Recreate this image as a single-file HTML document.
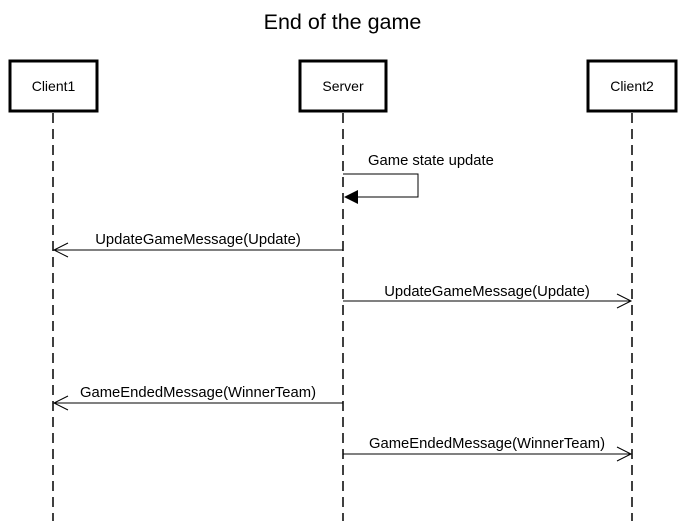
<!DOCTYPE html>
<html><head><style>body{margin:0;background:#fff}svg{display:block}</style></head><body>
<svg width="685" height="521" viewBox="0 0 685 521" xmlns="http://www.w3.org/2000/svg" font-family="Liberation Sans, sans-serif">
<rect width="685" height="521" fill="#fff"/>
<text x="342.5" y="29" font-size="21.5" text-anchor="middle">End of the game</text>
<g stroke="#000" stroke-width="1.5" fill="none" stroke-dasharray="10,6">
<line x1="53" y1="113" x2="53" y2="521"/>
<line x1="343" y1="113" x2="343" y2="521"/>
<line x1="632" y1="113" x2="632" y2="521"/>
</g>
<g stroke="#000" stroke-width="3" fill="#fff">
<rect x="10" y="61" width="87" height="50"/>
<rect x="300" y="61" width="86" height="50"/>
<rect x="588" y="61" width="88" height="50"/>
</g>
<g font-size="14" text-anchor="middle">
<text x="53.5" y="91">Client1</text>
<text x="343" y="91">Server</text>
<text x="632" y="91">Client2</text>
</g>
<g stroke="#000" stroke-width="1" fill="none">
<polyline points="343,174 418,174 418,197 356,197"/>
<line x1="343" y1="250" x2="54" y2="250"/>
<polyline points="68,243 54,250 68,257"/>
<line x1="343" y1="301" x2="631" y2="301"/>
<polyline points="617,294 631,301 617,308"/>
<line x1="343" y1="403" x2="54" y2="403"/>
<polyline points="68,396 54,403 68,410"/>
<line x1="343" y1="454" x2="631" y2="454"/>
<polyline points="617,447 631,454 617,461"/>
</g>
<polygon points="344,197 358,190 358,204" fill="#000"/>
<g font-size="14.8">
<text x="368" y="165">Game state update</text>
<text x="198" y="244" text-anchor="middle">UpdateGameMessage(Update)</text>
<text x="487" y="296" text-anchor="middle">UpdateGameMessage(Update)</text>
<text x="198" y="397" text-anchor="middle">GameEndedMessage(WinnerTeam)</text>
<text x="487" y="448" text-anchor="middle">GameEndedMessage(WinnerTeam)</text>
</g>
</svg>
</body></html>
